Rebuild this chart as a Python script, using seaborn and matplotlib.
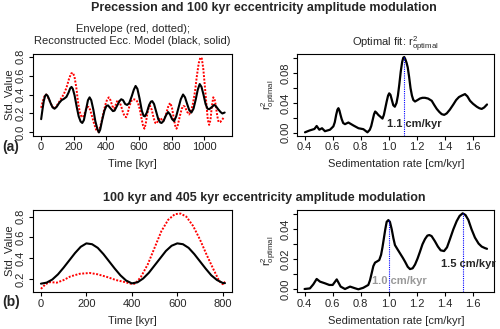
import numpy as np
import matplotlib
matplotlib.use("Agg")
import matplotlib.pyplot as plt
import seaborn as sns

# (a) precession envelope vs reconstructed 100 kyr model
time_a = [0, 8, 16, 24, 31, 40, 50, 60, 70, 82, 95, 110, 125, 140, 155, 168, 178, 186, 194, 205,
          218, 230, 242, 252, 262, 275, 287, 297, 307, 320, 332, 344, 354, 362, 374, 388, 400, 410,
          425, 440, 450, 465, 480, 491, 502, 515, 527, 540, 555, 568, 579, 590, 603, 617, 628, 636,
          648, 662, 673, 681, 692, 705, 718, 730, 738, 750, 765, 778, 790, 803, 815, 828, 842, 856,
          870, 882, 895, 908, 921, 934, 948, 960, 972, 983, 995, 1008, 1020, 1030, 1045, 1060, 1070,
          1085, 1100, 1111, 1125]
model_a = [0.14, 0.24, 0.33, 0.385, 0.40, 0.385, 0.345, 0.30, 0.265, 0.25, 0.27, 0.31, 0.34, 0.355,
           0.375, 0.42, 0.465, 0.48, 0.46, 0.39, 0.27, 0.17, 0.115, 0.10, 0.13, 0.24, 0.34, 0.37,
           0.34, 0.24, 0.12, 0.04, 0.00, 0.03, 0.13, 0.23, 0.28, 0.285, 0.255, 0.225, 0.23, 0.28,
           0.33, 0.35, 0.34, 0.30, 0.29, 0.31, 0.38, 0.45, 0.49, 0.46, 0.36, 0.23, 0.175, 0.17,
           0.21, 0.29, 0.325, 0.33, 0.30, 0.22, 0.14, 0.105, 0.10, 0.12, 0.18, 0.215, 0.19, 0.14,
           0.12, 0.17, 0.26, 0.35, 0.40, 0.37, 0.30, 0.235, 0.21, 0.25, 0.35, 0.45, 0.51, 0.48,
           0.40, 0.30, 0.25, 0.245, 0.265, 0.29, 0.28, 0.245, 0.215, 0.20, 0.21]
time_env_a = [0, 10, 20, 31, 42, 55, 70, 82, 95, 110, 123, 138, 155, 170, 183, 194, 204, 215, 226,
              236, 246, 256, 266, 278, 290, 300, 312, 325, 337, 348, 358, 370, 382, 395, 405, 415,
              425, 436, 447, 457, 468, 478, 490, 502, 512, 521, 530, 540, 552, 565, 580, 592, 604,
              615, 625, 633, 641, 650, 660, 668, 678, 690, 700, 708, 718, 727, 737, 748, 758, 770,
              782, 792, 802, 812, 822, 830, 838, 850, 862, 872, 882, 894, 907, 918, 930, 943, 955,
              966, 976, 985, 994, 1004, 1014, 1022, 1030, 1038, 1046, 1055, 1062, 1070, 1080, 1088,
              1098, 1108, 1120]
env_a = [0.26, 0.33, 0.38, 0.40, 0.37, 0.32, 0.27, 0.25, 0.28, 0.32, 0.36, 0.40, 0.47, 0.56, 0.62,
         0.63, 0.59, 0.48, 0.32, 0.22, 0.17, 0.16, 0.20, 0.26, 0.27, 0.24, 0.17, 0.09, 0.03, 0.01,
         0.04, 0.11, 0.21, 0.30, 0.35, 0.37, 0.34, 0.28, 0.25, 0.29, 0.34, 0.33, 0.28, 0.21, 0.17,
         0.16, 0.20, 0.27, 0.33, 0.35, 0.345, 0.32, 0.25, 0.15, 0.07, 0.04, 0.09, 0.19, 0.27, 0.28,
         0.24, 0.15, 0.10, 0.095, 0.13, 0.155, 0.14, 0.12, 0.15, 0.22, 0.29, 0.31, 0.26, 0.16,
         0.07, 0.04, 0.08, 0.17, 0.25, 0.28, 0.27, 0.22, 0.19, 0.22, 0.30, 0.43, 0.60, 0.73, 0.79,
         0.78, 0.67, 0.48, 0.28, 0.13, 0.08, 0.13, 0.27, 0.37, 0.36, 0.29, 0.17, 0.11, 0.11, 0.13,
         0.16]

rate_a = [0.403, 0.436, 0.47, 0.486, 0.505, 0.524, 0.545, 0.581, 0.605, 0.615, 0.625, 0.634, 0.641,
          0.648, 0.656, 0.664, 0.675, 0.688, 0.712, 0.748, 0.784, 0.819, 0.848, 0.865, 0.875,
          0.885, 0.895, 0.903, 0.912, 0.925, 0.94, 0.955, 0.965, 0.975, 0.985, 0.995, 1.003,
          1.012, 1.022, 1.032, 1.043, 1.055, 1.065, 1.075, 1.085, 1.095, 1.103, 1.11, 1.118,
          1.127, 1.135, 1.145, 1.155, 1.165, 1.175, 1.187, 1.205, 1.222, 1.24, 1.258, 1.28, 1.306,
          1.325, 1.342, 1.36, 1.377, 1.395, 1.413, 1.435, 1.46, 1.48, 1.5, 1.52, 1.543, 1.56,
          1.579, 1.6, 1.627, 1.645, 1.662, 1.68, 1.70]
r2_a = [0.0005, 0.003, 0.005, 0.009, 0.004, 0.006, 0.002, 0.004, 0.0085, 0.014, 0.024, 0.031,
        0.033, 0.030, 0.024, 0.0185, 0.013, 0.0115, 0.0137, 0.0097, 0.006, 0.0047, 0.0005, 0.004,
        0.009, 0.017, 0.025, 0.0285, 0.027, 0.024, 0.0215, 0.019, 0.024, 0.033, 0.042, 0.05,
        0.053, 0.051, 0.044, 0.037, 0.035, 0.04, 0.05, 0.065, 0.082, 0.095, 0.101, 0.102, 0.099,
        0.094, 0.088, 0.075, 0.06, 0.05, 0.044, 0.042, 0.044, 0.046, 0.047, 0.047, 0.046, 0.043,
        0.037, 0.032, 0.028, 0.025, 0.024, 0.026, 0.031, 0.038, 0.044, 0.048, 0.050, 0.052,
        0.049, 0.043, 0.039, 0.035, 0.033, 0.032, 0.034, 0.038]
best_a = [1.11]
best_a_r2 = [0.102]

# (b) 100 kyr vs 405 kyr
time_b = [0, 25, 50, 75, 100, 125, 150, 175, 200, 225, 250, 275, 300, 325, 350, 375, 400, 425,
          450, 475, 500, 525, 550, 575, 600, 625, 650, 675, 700, 725, 750, 775, 800, 810]
model_b = [0.155, 0.165, 0.195, 0.245, 0.31, 0.38, 0.45, 0.51, 0.543, 0.535, 0.50, 0.44, 0.37,
           0.30, 0.235, 0.185, 0.158, 0.168, 0.205, 0.26, 0.33, 0.40, 0.47, 0.52, 0.543, 0.535,
           0.50, 0.44, 0.37, 0.30, 0.235, 0.19, 0.162, 0.16]
time_env_b = [0, 20, 40, 70, 100, 130, 170, 215, 250, 290, 330, 370, 400, 415, 440, 470, 500, 530,
              560, 590, 615, 640, 670, 700, 730, 760, 785, 800, 810]
env_b = [0.105, 0.15, 0.17, 0.165, 0.19, 0.225, 0.25, 0.258, 0.245, 0.22, 0.19, 0.17, 0.152,
         0.155, 0.22, 0.34, 0.50, 0.66, 0.77, 0.825, 0.83, 0.80, 0.71, 0.58, 0.43, 0.29, 0.18,
         0.15, 0.175]

rate_b = [0.40, 0.438, 0.462, 0.486, 0.51, 0.545, 0.576, 0.60, 0.629, 0.657, 0.688, 0.724, 0.759,
          0.783, 0.818, 0.854, 0.866, 0.878, 0.89, 0.902, 0.915, 0.932, 0.945, 0.955, 0.965,
          0.975, 0.985, 0.997, 1.008, 1.021, 1.033, 1.044, 1.06, 1.08, 1.1, 1.116, 1.135, 1.151,
          1.17, 1.187, 1.205, 1.222, 1.24, 1.258, 1.275, 1.289, 1.305, 1.329, 1.35, 1.37, 1.394,
          1.415, 1.436, 1.46, 1.484, 1.505, 1.527, 1.547, 1.567, 1.59, 1.614, 1.64, 1.662, 1.685,
          1.70]
r2_b = [0.0002, 0.0006, 0.0033, 0.0069, 0.0051, 0.004, 0.0029, 0.0029, 0.0066, 0.0018, 0.0002,
        0.0018, 0.0007, 0.0, 0.001, 0.0029, 0.006, 0.0107, 0.0155, 0.0178, 0.0185, 0.0195,
        0.023, 0.028, 0.034, 0.040, 0.045, 0.0462, 0.045, 0.040, 0.034, 0.0295, 0.027, 0.024,
        0.021, 0.0184, 0.015, 0.0135, 0.014, 0.0165, 0.0205, 0.025, 0.030, 0.0335, 0.0358,
        0.0362, 0.0355, 0.032, 0.0285, 0.026, 0.0255, 0.028, 0.0335, 0.040, 0.0455, 0.049,
        0.0507, 0.0495, 0.0463, 0.040, 0.0345, 0.0305, 0.0285, 0.0275, 0.027]
best_b = [1.00, 1.53]
best_b_r2 = [0.0462, 0.0507]

sns.set_style("ticks")
plt.rcParams['font.family'] = ['Liberation Sans', 'DejaVu Sans']
plt.rcParams['mathtext.default'] = 'regular'
plt.rcParams['font.size'] = 8
plt.rcParams['axes.linewidth'] = 0.8
plt.rcParams['xtick.major.width'] = 0.8
plt.rcParams['ytick.major.width'] = 0.8
plt.rcParams['xtick.major.size'] = 3
plt.rcParams['ytick.major.size'] = 3

fig = plt.figure(figsize=(5, 3.29), dpi=100)
W, H = 500.0, 329.0


def make_ax(x0, x1, y0, y1):
    return fig.add_axes([x0 / W, 1 - y1 / H, (x1 - x0) / W, (y1 - y0) / H])


ax1 = make_ax(33, 232, 53.5, 135.5)
ax2 = make_ax(297.3, 494.3, 53.5, 135.5)
ax3 = make_ax(33, 232, 210, 292)
ax4 = make_ax(297.3, 494.3, 210, 292)

red_dots = (0, (1, 0.8))

sns.lineplot(x=time_env_a, y=env_a, ax=ax1, color='red', linewidth=1.4, linestyle=red_dots, estimator=None)
sns.lineplot(x=time_a, y=model_a, ax=ax1, color='black', linewidth=1.5, estimator=None)
ax1.set_xlim(-50, 1170)
ax1.set_ylim(-0.032, 0.832)
ax1.set_xticks([0, 200, 400, 600, 800, 1000])
ax1.set_yticks([0.0, 0.2, 0.4, 0.6, 0.8])
ax1.set_yticklabels(['0.0', '0.2', '0.4', '0.6', '0.8'])
ax1.set_xlabel('Time [kyr]')
ax1.set_ylabel('Std. Value')
ax1.text(0.5, 1.09, 'Envelope (red, dotted);\nReconstructed Ecc. Model (black, solid)',
         transform=ax1.transAxes, ha='center', va='bottom', linespacing=1.25)

sns.lineplot(x=rate_a, y=r2_a, ax=ax2, color='black', linewidth=1.6, estimator=None)
ax2.vlines(best_a, -0.0038, best_a_r2, colors='blue', linewidth=0.8, linestyles=(0, (1, 1)))
ax2.text(1.185, 0.0117, '1.1 cm/kyr', ha='center', va='center', fontweight='bold')
ax2.set_xlim(0.348, 1.752)
ax2.set_ylim(-0.0038, 0.1067)
ax2.set_xticks([0.4, 0.6, 0.8, 1.0, 1.2, 1.4, 1.6])
ax2.set_yticks([0.0, 0.02, 0.04, 0.06, 0.08, 0.10])
ax2.set_yticklabels(['0.00', '', '0.04', '', '0.08', ''])
ax2.set_xlabel('Sedimentation rate [cm/kyr]')
ax2.set_ylabel('$r^{2}_{optimal}$')
ax2.text(0.5, 1.085, 'Optimal fit: $r^{2}_{optimal}$', transform=ax2.transAxes, ha='center', va='baseline')

sns.lineplot(x=time_env_b, y=env_b, ax=ax3, color='red', linewidth=1.4, linestyle=red_dots, estimator=None)
sns.lineplot(x=time_b, y=model_b, ax=ax3, color='black', linewidth=1.5, estimator=None)
ax3.set_xlim(-35, 841)
ax3.set_ylim(0.0748, 0.8645)
ax3.set_xticks([0, 200, 400, 600, 800])
ax3.set_yticks([0.2, 0.4, 0.6, 0.8])
ax3.set_xlabel('Time [kyr]')
ax3.set_ylabel('Std. Value')

sns.lineplot(x=rate_b, y=r2_b, ax=ax4, color='black', linewidth=1.6, estimator=None)
ax4.vlines(best_b, -0.0018, best_b_r2, colors='blue', linewidth=0.8, linestyles=(0, (1, 1)))
ax4.text(1.075, 0.0055, '1.0 cm/kyr', ha='center', va='center', fontweight='bold', color='#999999')
ax4.text(1.565, 0.0169, '1.5 cm/kyr', ha='center', va='center', fontweight='bold', clip_on=False)
ax4.set_xlim(0.348, 1.752)
ax4.set_ylim(-0.0018, 0.0529)
ax4.set_xticks([0.4, 0.6, 0.8, 1.0, 1.2, 1.4, 1.6])
ax4.set_yticks([0.0, 0.01, 0.02, 0.03, 0.04, 0.05])
ax4.set_yticklabels(['0.00', '', '0.02', '', '0.04', ''])
ax4.set_xlabel('Sedimentation rate [cm/kyr]')
ax4.set_ylabel('$r^{2}_{optimal}$')

for ax in [ax1, ax2, ax3, ax4]:
    for s in ax.spines.values():
        s.set_visible(True)
        s.set_color('black')
    ax.tick_params(axis='both', labelsize=8, pad=2, color='black')
    ax.tick_params(axis='y', labelrotation=90)
    for lab in ax.get_yticklabels():
        lab.set_va('center')
    ax.xaxis.labelpad = 5
    ax.yaxis.labelpad = 1
    ax.xaxis.label.set_size(8)
    ax.yaxis.label.set_size(8)

fig.text(264 / W, 1 - 8 / H, 'Precession and 100 kyr eccentricity amplitude modulation',
         ha='center', va='center', fontsize=9, fontweight='bold')
fig.text(264 / W, 1 - 198 / H, '100 kyr and 405 kyr eccentricity amplitude modulation',
         ha='center', va='center', fontsize=9, fontweight='bold')
fig.text(11 / W, 1 - 147 / H, '(a)', ha='center', va='center', fontsize=10, fontweight='bold')
fig.text(11 / W, 1 - 302 / H, '(b)', ha='center', va='center', fontsize=10, fontweight='bold')

fig.savefig('out.png', dpi=100)
